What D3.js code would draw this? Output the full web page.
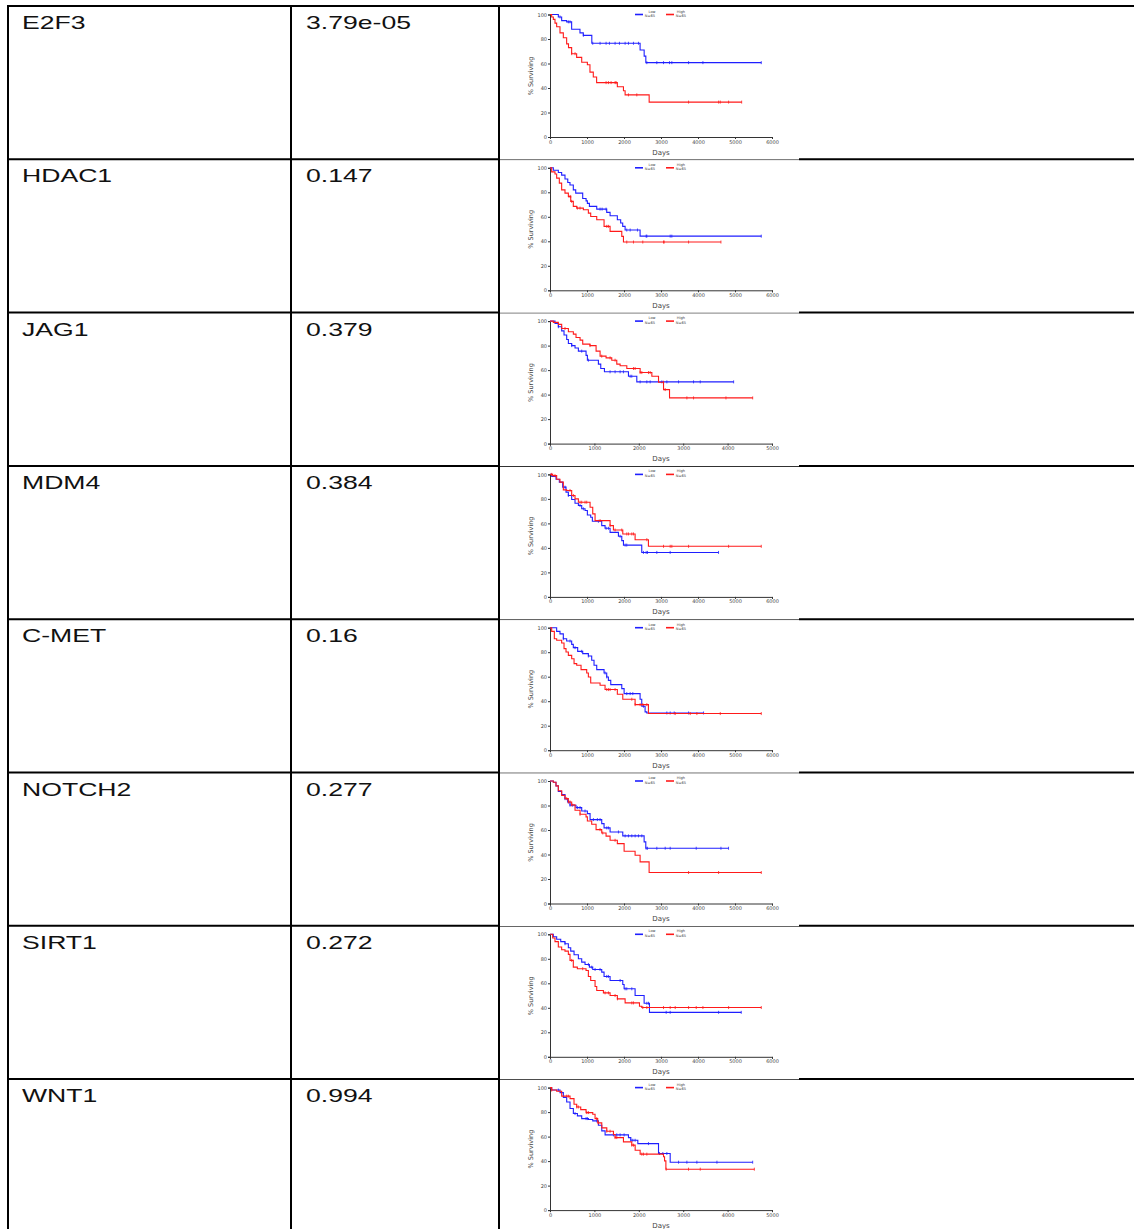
<!DOCTYPE html>
<html>
<head>
<meta charset="utf-8">
<script src="https://cdn.jsdelivr.net/npm/d3@7"></script>
<style>
  body { margin: 0; background: #fff; }
  .cell { font-family: "Liberation Sans", Arial, sans-serif; font-size: 19px; fill: #111; }
  .km text { font-family: "DejaVu Sans", sans-serif; }
  .axis path, .axis line { stroke: #333; }
  .axis text { fill: #444; font-size: 5px; }
</style>
</head>
<body>
<div id="chart"></div>
<script>
var genes = ["E2F3", "HDAC1", "JAG1", "MDM4", "C-MET", "NOTCH2", "SIRT1", "WNT1"];
var pValues = ["3.79e-05", "0.147", "0.379", "0.384", "0.16", "0.277", "0.272", "0.994"];
var dayMax = [6000, 6000, 5000, 6000, 6000, 6000, 6000, 5000];
var yTicks = [0, 20, 40, 60, 80, 100];

// steps are [day, % surviving]; last point is the end of follow-up
var e2f3Low = [[0,100],[225,98],[315,95],[450,94],[585,88],[810,85],[900,83],[1130,76.5],[2435,71],[2545,66],[2590,60.7],[5710,60.7]];
var e2f3LowCensor = [271,496,541,902,1155,1353,1516,1606,1759,1877,2030,2120,2256,2391,2617,2887,3068,3230,3293,3745,4133,5710];
var e2f3High = [[0,100],[45,98],[90,96],[135,93],[180,90],[270,85],[360,81],[450,76],[500,73],[585,68],[720,65],[857,61],[1010,59],[1080,53],[1170,49],[1260,44.4],[1820,41],[1985,37.7],[2030,34.4],[2680,28.5],[5180,28.5]];
var e2f3HighCensor = [586,677,1516,1579,1651,1759,1787,2120,2346,3745,4557,4602,4827,5180];

var hdac1Low = [[0,100],[90,98],[225,96.2],[315,94],[405,90.8],[480,88],[540,86],[630,82],[695,79.3],[884,75],[975,73],[1010,71],[1065,68.5],[1263,66.3],[1533,63.6],[1624,60.9],[1820,57.6],[1910,54.9],[1965,52.2],[2030,49.2],[2435,44.2],[5710,44.2]];
var hdac1LowCensor = [1353,1408,1516,2075,2166,2364,2599,2617,3248,3293,5710];
var hdac1High = [[0,100],[45,96.7],[135,95],[180,91.6],[252,87.5],[315,82],[405,79.3],[496,76.6],[560,72.6],[630,68.5],[722,67.1],[902,65.8],[1037,63],[1100,60.3],[1263,57.6],[1461,52.2],[1624,48.1],[1940,44],[1985,39.4],[4620,39.4]];
var hdac1HighCensor = [514,559,586,740,812,1534,1579,2075,2256,2508,3068,3086,3745,4620];

var jag1Low = [[0,100],[113,98],[188,95.4],[263,92],[316,88.6],[376,85],[414,81.7],[489,80],[564,78],[639,75.5],[812,72],[842,68.1],[1090,64.9],[1143,61.3],[1226,58.6],[1767,55],[1955,50.4],[4136,50.4]];
var jag1LowCensor = [188,489,714,865,1353,1466,1579,1654,1805,1842,2030,2181,2256,2519,2632,2895,3233,3384,4136];
var jag1High = [[0,100],[75,99],[188,97.3],[263,94],[414,91.3],[526,89.4],[586,86.6],[677,84.5],[737,81.2],[900,80],[1038,75.5],[1128,71.4],[1263,70],[1391,68.1],[1504,64.9],[1579,63.5],[1730,61.3],[2030,58],[2294,55],[2444,50.1],[2557,44.1],[2692,37.3],[4565,37.3]];
var jag1HighCensor = [338,902,1165,1353,1466,1880,1917,2030,2068,2218,2256,2556,2594,3083,3233,3963,4565];

var mdm4Low = [[0,100],[45,98.4],[162,96],[252,93.7],[343,89.6],[433,85.5],[496,82.8],[586,79.5],[676,76.5],[767,74.6],[857,71.9],[947,70.5],[1010,66.9],[1100,65],[1145,61.7],[1398,58.2],[1488,56],[1624,52.7],[1849,49.5],[1940,45.9],[1985,42.3],[2480,36.3],[4555,36.3]];
var mdm4LowCensor = [406,496,812,902,1308,1516,1579,1895,2030,2075,2526,2599,2635,2887,3248,4555];
var mdm4High = [[0,100],[72,99],[180,96],[270,93.7],[360,87.4],[450,86.9],[586,82.8],[676,80],[767,77.3],[1083,73.2],[1155,67.8],[1218,62.3],[1624,58.2],[1714,54.6],[1967,51.4],[2300,46.7],[2660,41.3],[5710,41.3]];
var mdm4HighCensor = [45,135,541,632,812,857,947,993,1353,1624,1759,1940,2075,2120,2211,2256,2617,3068,3248,3293,3745,4827,5710];

var cmetLow = [[0,100],[180,97],[270,95],[360,91],[450,89.1],[586,86.4],[630,83.7],[748,80.7],[884,78.8],[1037,76.9],[1127,73.4],[1190,69.3],[1263,65.8],[1461,63],[1533,59.8],[1578,57],[1642,53.5],[1940,50.3],[2003,46.2],[2435,41.6],[2480,35.9],[2570,31.3],[2615,30.4],[4150,30.4]];
var cmetLowCensor = [361,541,677,857,1038,1489,1534,2075,2166,2238,2526,3158,3248,3357,3745,4150];
var cmetHigh = [[0,100],[45,97],[117,91],[180,89.7],[315,87.5],[379,82.9],[433,80.2],[496,77.4],[586,74.7],[650,70.7],[722,69.3],[839,65.8],[992,63],[1037,59.8],[1100,54.9],[1353,53],[1488,49.5],[1820,45.7],[1967,41.6],[2300,37.2],[2660,29.9],[5710,29.9]];
var cmetHighCensor = [1534,1579,1624,1759,2211,2301,2436,2508,2617,3384,3790,3970,4602,5710];

var notch2Low = [[0,100],[90,99],[162,96],[225,91.5],[315,89],[405,85.6],[478,82.9],[541,80.2],[703,78.3],[857,75.5],[1010,73.4],[1083,68.5],[1398,65.2],[1461,61.7],[1624,58.4],[1967,55.2],[2544,50.3],[2589,45.1],[4826,45.1]];
var notch2LowCensor = [406,496,541,614,740,812,947,1173,1281,1353,1534,1579,1850,2030,2120,2211,2301,2391,2481,2599,2635,2887,3113,3248,3952,4620,4826];
var notch2High = [[0,100],[90,99],[162,96],[225,92],[315,88.3],[405,85.6],[496,82.9],[586,80.5],[676,76.1],[812,72.8],[974,70.7],[1010,67.3],[1127,64.7],[1245,60.3],[1398,57.6],[1515,55],[1624,51.6],[1820,48.9],[2003,42.7],[2300,39.4],[2435,34],[2679,25.3],[5710,25.3]];
var notch2HighCensor = [451,496,541,586,812,1353,1426,1759,3745,4557,5710];

var sirt1Low = [[0,100],[90,98],[180,96],[290,94],[405,92.3],[496,89],[560,86.3],[650,83.3],[767,80],[857,77.3],[947,75.4],[1065,73.2],[1155,71.3],[1398,69.1],[1461,65.6],[1624,62.3],[1967,59],[2003,55.5],[2300,50],[2544,43.7],[2688,36.3],[5169,36.3]];
var sirt1LowCensor = [406,1038,1128,1218,1353,1534,1579,1895,2030,2075,2211,2617,2662,3140,3248,4557,5169];
var sirt1High = [[0,100],[72,97],[135,94],[225,89.6],[315,87.4],[405,86.3],[496,83.6],[541,78.7],[630,73.2],[739,71.9],[974,70.5],[1037,65.6],[1100,62.3],[1218,57.4],[1263,54.1],[1443,52.2],[1624,50],[1820,47.3],[2030,44],[2418,41.3],[2480,40.2],[5710,40.2]];
var sirt1HighCensor = [586,884,1489,1579,1759,1823,2211,2256,2508,2617,3068,3248,3384,3745,3952,4133,4827,5710];

var wnt1Low = [[0,100],[38,98],[226,95.9],[301,92],[376,88.3],[451,82.9],[526,78.8],[617,76.9],[714,74.7],[865,73.9],[963,72.8],[1090,69.3],[1166,64.7],[1241,61.4],[1767,59.2],[1820,57],[1978,54.3],[2444,46.2],[2707,39.1],[4565,39.1]];
var wnt1LowCensor = [188,564,812,842,1053,1429,1504,1579,1669,1820,1865,1917,2218,2466,2541,2632,2895,3083,3308,3760,4565];
var wnt1High = [[0,100],[38,98],[150,97],[263,93],[451,91],[541,86.4],[602,84.2],[692,82],[812,79.6],[963,78.3],[1015,74.7],[1075,71.2],[1166,67.1],[1279,64.4],[1429,61.7],[1466,59.2],[1654,55.7],[1842,53],[1918,48.9],[2030,45.7],[2557,43.5],[2580,40.2],[2610,33.4],[4602,33.4]];
var wnt1HighCensor = [38,376,414,602,639,827,865,1053,1090,1279,1353,1466,1504,1842,1880,2068,2105,2181,2617,3120,3384,4602];

var lowCurves = [e2f3Low, hdac1Low, jag1Low, mdm4Low, cmetLow, notch2Low, sirt1Low, wnt1Low];
var lowCensors = [e2f3LowCensor, hdac1LowCensor, jag1LowCensor, mdm4LowCensor, cmetLowCensor, notch2LowCensor, sirt1LowCensor, wnt1LowCensor];
var highCurves = [e2f3High, hdac1High, jag1High, mdm4High, cmetHigh, notch2High, sirt1High, wnt1High];
var highCensors = [e2f3HighCensor, hdac1HighCensor, jag1HighCensor, mdm4HighCensor, cmetHighCensor, notch2HighCensor, sirt1HighCensor, wnt1HighCensor];

var W = 1134, H = 1229;
var rowTop0 = 6, rowH = 153.3;
var colX = [8, 291, 499];

var svg = d3.select("#chart").append("svg")
    .attr("width", W)
    .attr("height", H);

// value of a step curve at a given day
function survAt(curve, t) {
  var v = curve[0][1];
  for (var i = 0; i < curve.length; i++) {
    if (curve[i][0] <= t) v = curve[i][1];
  }
  return v;
}

function drawKM(g, i) {
  var x = d3.scaleLinear().domain([0, dayMax[i]]).range([50, 272]);
  var y = d3.scaleLinear().domain([0, 100]).range([130, 7.5]);

  var xAxis = d3.axisBottom(x).ticks(dayMax[i] / 1000).tickFormat(d3.format("d")).tickSize(2).tickPadding(1);
  var yAxis = d3.axisLeft(y).tickValues(yTicks).tickSize(2).tickPadding(1);

  g.append("g")
      .attr("class", "axis")
      .attr("transform", "translate(0,130)")
      .call(xAxis);
  g.append("g")
      .attr("class", "axis")
      .attr("transform", "translate(50,0)")
      .call(yAxis);
  g.selectAll(".axis path").attr("stroke-width", 1);

  g.append("text")
      .attr("x", 161)
      .attr("y", 147.5)
      .attr("text-anchor", "middle")
      .attr("font-size", 7)
      .attr("fill", "#444")
      .text("Days");
  g.append("text")
      .attr("transform", "translate(33,69) rotate(-90)")
      .attr("text-anchor", "middle")
      .attr("font-size", 6.5)
      .attr("fill", "#444")
      .text("% Surviving");

  var line = d3.line()
      .x(function(d) { return x(d[0]); })
      .y(function(d) { return y(d[1]); })
      .curve(d3.curveStepAfter);

  var series = [
    {curve: lowCurves[i], censor: lowCensors[i], color: "#1f1fff"},
    {curve: highCurves[i], censor: highCensors[i], color: "#ff1a1a"}
  ];

  series.forEach(function(s) {
    g.append("path")
        .datum(s.curve)
        .attr("fill", "none")
        .attr("stroke", s.color)
        .attr("stroke-width", 1.1)
        .attr("d", line);
    g.selectAll(null)
        .data(s.censor)
        .enter().append("line")
        .attr("x1", function(d) { return x(d); })
        .attr("x2", function(d) { return x(d); })
        .attr("y1", function(d) { return y(survAt(s.curve, d)) - 1.5; })
        .attr("y2", function(d) { return y(survAt(s.curve, d)) + 1.5; })
        .attr("stroke", s.color)
        .attr("stroke-width", 0.8);
  });

  // legend
  var legend = [
    {name: "Low", n: "N=65", color: "#1f1fff", x: 135},
    {name: "High", n: "N=65", color: "#ff1a1a", x: 166}
  ];
  var lg = g.selectAll(".lg")
      .data(legend)
      .enter().append("g")
      .attr("transform", function(d) { return "translate(" + d.x + ",0)"; });
  lg.append("line")
      .attr("x1", 0).attr("x2", 8)
      .attr("y1", 7.5).attr("y2", 7.5)
      .attr("stroke", function(d) { return d.color; })
      .attr("stroke-width", 1.6);
  lg.append("text")
      .attr("x", function(d) { return d.name == "Low" ? 17 : 15; })
      .attr("y", 5.5)
      .attr("text-anchor", "middle")
      .attr("font-size", 3.6)
      .attr("fill", "#444")
      .text(function(d) { return d.name; });
  lg.append("text")
      .attr("x", 15)
      .attr("y", 10)
      .attr("text-anchor", "middle")
      .attr("font-size", 3.6)
      .attr("fill", "#444")
      .text(function(d) { return d.n; });
}

// table grid
var rows = genes.map(function(g, i) { return rowTop0 + i * rowH; });

svg.selectAll(".hline")
    .data(rows)
    .enter().append("line")
    .attr("x1", colX[0] - 1).attr("x2", W)
    .attr("y1", function(d) { return d; })
    .attr("y2", function(d) { return d; })
    .attr("stroke", "#000")
    .attr("stroke-width", 2);

svg.selectAll(".vline")
    .data(colX)
    .enter().append("line")
    .attr("x1", function(d) { return d; })
    .attr("x2", function(d) { return d; })
    .attr("y1", rowTop0 - 1).attr("y2", H)
    .attr("stroke", "#000")
    .attr("stroke-width", 2);

genes.forEach(function(gene, i) {
  var top = rows[i];
  // cell text is drawn wider than plain Arial, as in the source table
  svg.append("text")
      .attr("class", "cell")
      .attr("transform", "translate(22," + (top + 23) + ") scale(1.4,1)")
      .text(gene);
  svg.append("text")
      .attr("class", "cell")
      .attr("transform", "translate(306," + (top + 23) + ") scale(1.4,1)")
      .text(pValues[i]);

  var g = svg.append("g")
      .attr("class", "km")
      .attr("transform", "translate(500," + (top + 1) + ")");
  g.append("rect")
      .attr("width", 299)
      .attr("height", 152.5)
      .attr("fill", "#fff");
  drawKM(g, i);
});
</script>
</body>
</html>
